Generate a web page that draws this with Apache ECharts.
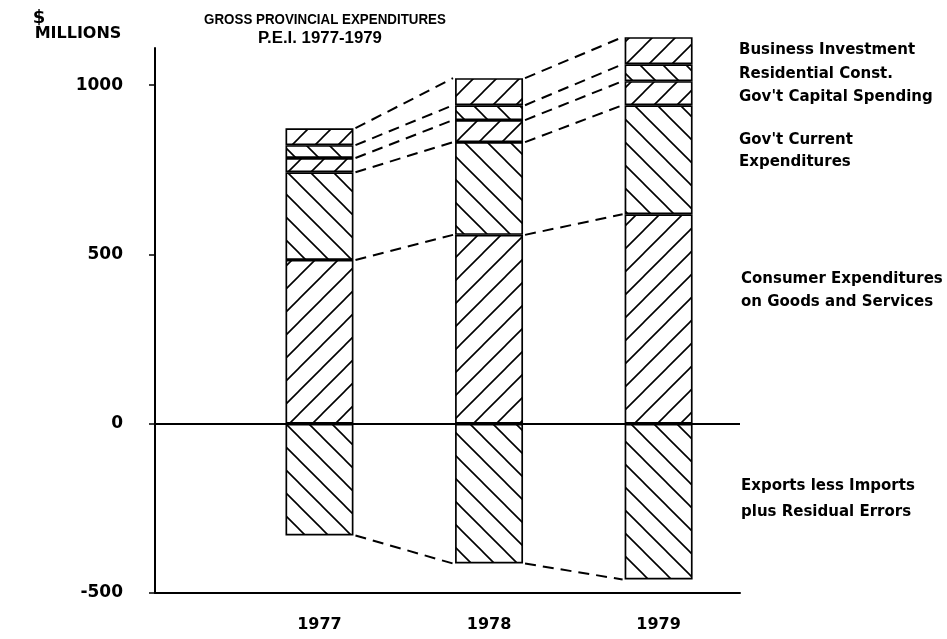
<!DOCTYPE html>
<html>
<head>
<meta charset="UTF-8">
<title>Gross Provincial Expenditures P.E.I. 1977-1979</title>
<script src="https://cdn.jsdelivr.net/npm/echarts@6/dist/echarts.min.js"></script>
</head>
<body style="margin:0">
<div id="main" style="width:947px;height:639px;"></div>
<script type="text/javascript">
// values in $ millions
var years = ['1977', '1978', '1979'];
var exportsNet = [-330, -413, -460];
var consumer = [484, 558, 619];
var govCurrent = [259, 274, 322];
var govCapital = [42, 65, 71];
var residential = [38, 44, 50];
var business = [50, 80, 80];
var yTicks = [-500, 0, 500, 1000];

var BAR_W = 68;
var FONT = 'DejaVu Sans';

// diagonal hatch pattern
function hatch(dir) {
  var s = 23;
  var c = document.createElement('canvas');
  c.width = s; c.height = s;
  var ctx = c.getContext('2d');
  ctx.strokeStyle = '#000';
  ctx.lineWidth = 1.6;
  ctx.beginPath();
  if (dir === '/') {
    ctx.moveTo(0, s); ctx.lineTo(s, 0);
    ctx.moveTo(-2, 2); ctx.lineTo(2, -2);
    ctx.moveTo(s - 2, s + 2); ctx.lineTo(s + 2, s - 2);
  } else {
    ctx.moveTo(0, 0); ctx.lineTo(s, s);
    ctx.moveTo(s - 2, -2); ctx.lineTo(s + 2, 2);
    ctx.moveTo(-2, s - 2); ctx.lineTo(2, s + 2);
  }
  ctx.stroke();
  return { image: c, repeat: 'repeat' };
}

var layers = [
  { name: 'Exports less Imports plus Residual Errors', data: exportsNet, dir: '\\' },
  { name: 'Consumer Expenditures on Goods and Services', data: consumer, dir: '/' },
  { name: "Gov't Current Expenditures", data: govCurrent, dir: '\\' },
  { name: "Gov't Capital Spending", data: govCapital, dir: '/' },
  { name: 'Residential Const.', data: residential, dir: '\\' },
  { name: 'Business Investment', data: business, dir: '/' }
];

// boundaries of each stacked bar (bottom, then running tops)
function levels(i) {
  var out = [exportsNet[i]];
  var sum = 0;
  for (var k = 1; k < layers.length; k++) {
    sum += layers[k].data[i];
    out.push(sum);
  }
  return out;
}

// value first so that the y dimension is the stacked one
var series = layers.map(function (l) {
  return {
    name: l.name,
    type: 'bar',
    stack: 'total',
    barWidth: BAR_W,
    clip: false,
    encode: { x: 1, y: 0 },
    data: l.data.map(function (v, i) { return [v, i]; }),
    itemStyle: { color: hatch(l.dir), borderColor: '#000', borderWidth: 1.7 },
    silent: true
  };
});

series.push({
  type: 'custom',
  z: 5,
  silent: true,
  clip: false,
  data: [[0, 0], [1, 0]],
  encode: { x: 0, y: 1 },
  renderItem: function (params, api) {
    var i = api.value(0);
    var a = levels(i), b = levels(i + 1);
    var children = a.map(function (v, k) {
      var p1 = api.coord([i, v]);
      var p2 = api.coord([i + 1, b[k]]);
      return {
        type: 'line',
        shape: { x1: p1[0] + BAR_W / 2 + 2, y1: p1[1], x2: p2[0] - BAR_W / 2 - 2, y2: p2[1] },
        style: { stroke: '#000', lineWidth: 2, lineDash: [11, 7] }
      };
    });
    return { type: 'group', children: children };
  },
  markLine: {
    silent: true,
    symbol: 'none',
    label: { show: false },
    lineStyle: { color: '#000', width: 2, type: 'solid' },
    data: [{ yAxis: 0 }]
  }
});

function txt(cx, cy, s, size, font, sx) {
  return {
    type: 'text', x: cx, y: cy, scaleX: sx || 1,
    style: {
      text: s, fill: '#000', align: 'center', verticalAlign: 'middle',
      font: 'bold ' + size + 'px "' + font + '"'
    }
  };
}
function lbl(x, cy, s) {
  return {
    type: 'text', x: x, y: cy,
    style: {
      text: s, fill: '#000', align: 'left', verticalAlign: 'middle',
      font: 'bold 15px "' + FONT + '"'
    }
  };
}

var chart = echarts.init(document.getElementById('main'));
chart.setOption({
  animation: false,
  backgroundColor: '#fff',
  grid: { left: 155, right: 207, top: 48, bottom: 46 },
  xAxis: {
    type: 'value',
    min: -0.97,
    max: 2.48,
    splitLine: { show: false },
    axisTick: { show: false },
    axisLine: { onZero: false, lineStyle: { color: '#000', width: 2 } },
    axisLabel: {
      customValues: [0, 1, 2],
      formatter: function (v) { return years[v]; },
      margin: 24,
      color: '#000',
      fontFamily: FONT,
      fontWeight: 'bold',
      fontSize: 16
    }
  },
  yAxis: {
    type: 'value',
    min: -500,
    max: 1110,
    splitLine: { show: false },
    axisLine: { show: true, onZero: false, lineStyle: { color: '#000', width: 2 } },
    axisTick: { show: true, customValues: yTicks, length: 6, lineStyle: { color: '#000', width: 1.5 } },
    axisLabel: {
      customValues: yTicks,
      formatter: function (v) { return String(v); },
      margin: 32,
      color: '#000',
      fontFamily: FONT,
      fontWeight: 'bold',
      fontSize: 17
    }
  },
  series: series,
  graphic: [
    txt(39, 18, '$', 18, FONT),
    txt(78, 34, 'MILLIONS', 16, FONT),
    txt(325, 20, 'GROSS PROVINCIAL EXPENDITURES', 15, 'Liberation Sans', 0.89),
    txt(320, 39, 'P.E.I. 1977-1979', 16, 'Liberation Sans', 1.05)
  ].concat([
    lbl(739, 50, 'Business Investment'),
    lbl(739, 74, 'Residential Const.'),
    lbl(739, 97, "Gov't Capital Spending"),
    lbl(739, 140, "Gov't Current"),
    lbl(739, 162, 'Expenditures'),
    lbl(741, 279, 'Consumer Expenditures'),
    lbl(741, 302, 'on Goods and Services'),
    lbl(741, 486, 'Exports less Imports'),
    lbl(741, 512, 'plus Residual Errors')
  ])
});
</script>
</body>
</html>
